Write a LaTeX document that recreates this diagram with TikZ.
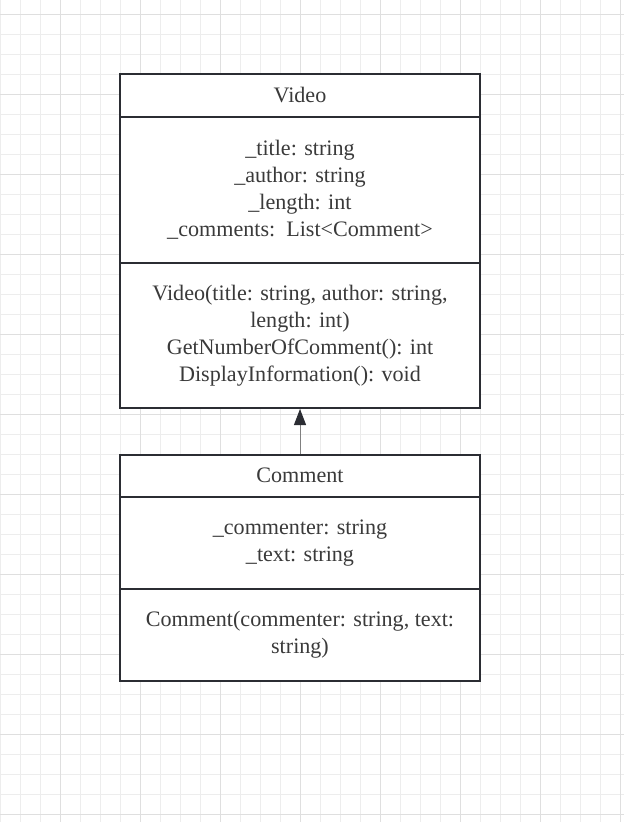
\documentclass[tikz,border=0pt]{standalone}
\usepackage{fontspec}
\setmainfont{Liberation Serif}
\usetikzlibrary{arrows.meta}

\definecolor{gridminor}{HTML}{EDEDED}
\definecolor{gridmajor}{HTML}{DFDFDF}
\definecolor{umlline}{HTML}{2B2D33}
\definecolor{umltext}{HTML}{3A3A3A}

\tikzset{
  classbox/.style={draw=umlline, line width=2pt, fill=white, minimum width=360pt, inner sep=0pt},
  member/.style={text=umltext, font=\fontsize{22.1}{27}\selectfont, align=center, inner sep=0pt},
  divider/.style={draw=umlline, line width=2pt},
}

\begin{document}
\begin{tikzpicture}[x=1pt,y=-1pt]
\useasboundingbox (0,0) rectangle (624,822);

% grid
\foreach \x in {0,20,...,620} \draw[gridminor, line width=1pt] (\x,0) -- (\x,822);
\foreach \y in {14,34,...,814} \draw[gridminor, line width=1pt] (0,\y) -- (624,\y);
\foreach \x in {60,140,...,620} \draw[gridmajor, line width=1pt] (\x,0) -- (\x,822);
\foreach \y in {14,94,...,814} \draw[gridmajor, line width=1pt] (0,\y) -- (624,\y);

% classes
\node[classbox, minimum height=334pt] (video) at (300,241) {};
\node[classbox, minimum height=226pt] (comment) at (300,568) {};

\draw[divider] ([yshift=-44pt]video.north west) -- ([yshift=-44pt]video.north east);
\draw[divider] ([yshift=-190pt]video.north west) -- ([yshift=-190pt]video.north east);
\draw[divider] ([yshift=-43pt]comment.north west) -- ([yshift=-43pt]comment.north east);
\draw[divider] ([yshift=-135pt]comment.north west) -- ([yshift=-135pt]comment.north east);

\node[member] (videoname) at (300,95) {Video};
\node[member] (videoattrs) at (300,190) {\_title: string\\\_author: string\\\_length: int\\\_comments:\ \ List<Comment>};
\node[member] (videoops) at (300,336) {Video(title: string, author: string,\\length: int)\\GetNumberOfComment(): int\\DisplayInformation(): void};

\node[member] (commentname) at (300,475) {Comment};
\node[member] (commentattrs) at (300,543) {\_commenter: string\\\_text: string};
\node[member] (commentops) at (300,635) {Comment(commenter: string, text:\\string)};

% inheritance
\draw[gray, line width=1pt, -{Triangle[length=16pt, width=12pt, color=umlline]}] (comment.north) -- (video.south);
\end{tikzpicture}
\end{document}
